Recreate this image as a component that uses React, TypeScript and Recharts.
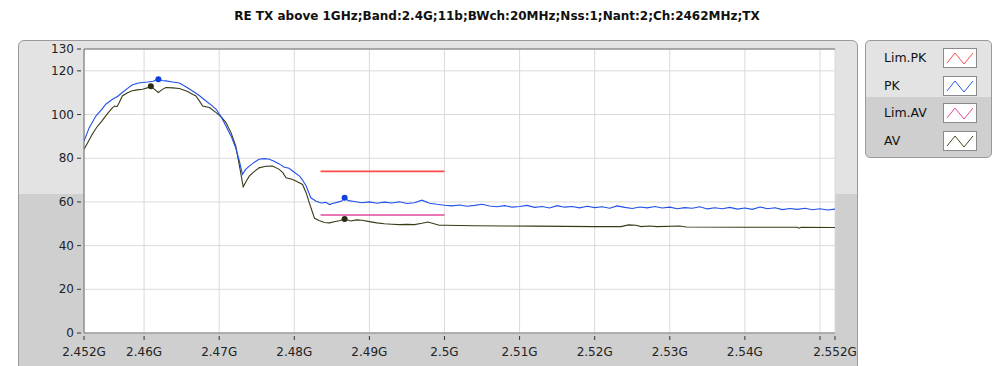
import { ComposedChart, Line, XAxis, YAxis, CartesianGrid, ReferenceDot, ReferenceLine } from "recharts";

const title = "RE TX above 1GHz;Band:2.4G;11b;BWch:20MHz;Nss:1;Nant:2;Ch:2462MHz;TX";

const xTicks = [2.452, 2.46, 2.47, 2.48, 2.49, 2.5, 2.51, 2.52, 2.53, 2.54, 2.55, 2.552];
const yTicks = [0, 20, 40, 60, 80, 100, 120, 130];

// PK trace (GHz, dBuV/m)
const pkFreq = [
  2.452, 2.4527, 2.4536, 2.4544, 2.4549, 2.4558, 2.4565, 2.4571, 2.4578, 2.4584,
  2.4591, 2.4598, 2.4605, 2.4612, 2.4619, 2.4624, 2.4629, 2.4638, 2.4647, 2.4655,
  2.4664, 2.4673, 2.4682, 2.469, 2.4696, 2.4703, 2.4709, 2.4716, 2.4722, 2.4727,
  2.4731, 2.4735, 2.474, 2.4747, 2.4753, 2.476, 2.4767, 2.4773, 2.478, 2.4786,
  2.4793, 2.48, 2.4807, 2.4811, 2.4816, 2.4822, 2.4829, 2.4836, 2.4842, 2.4847,
  2.4852, 2.4858, 2.4863, 2.4867, 2.4872, 2.488, 2.489, 2.49, 2.491, 2.492,
  2.493, 2.494, 2.495, 2.496, 2.497, 2.498, 2.499, 2.5, 2.501, 2.502,
  2.503, 2.504, 2.505, 2.506, 2.507, 2.508, 2.509, 2.51, 2.511, 2.512,
  2.513, 2.514, 2.515, 2.516, 2.517, 2.518, 2.519, 2.52, 2.521, 2.522,
  2.523, 2.524, 2.525, 2.526, 2.527, 2.528, 2.529, 2.53, 2.531, 2.532,
  2.533, 2.534, 2.535, 2.536, 2.537, 2.538, 2.539, 2.54, 2.541, 2.542,
  2.543, 2.544, 2.545, 2.546, 2.547, 2.548, 2.549, 2.55, 2.551, 2.552,
];
const pkLevel = [
  87.9, 94.0, 99.4, 102.5, 104.7, 107.0, 108.4, 110.1, 112.0, 113.5,
  114.3, 114.7, 114.9, 115.2, 116.2, 115.6, 115.4, 114.9, 114.4, 112.8,
  110.9, 108.8, 106.3, 104.2, 102.4, 98.7, 94.8, 90.0, 84.8, 78.5,
  72.6, 74.8, 76.4, 78.2, 79.5, 79.8, 79.5, 78.6, 77.4, 76.0,
  75.4, 73.6, 71.8, 70.0, 67.2, 61.9, 60.3, 59.5, 59.8, 58.8,
  59.4, 59.9, 60.4, 61.9, 60.6, 60.2, 59.6, 60.0, 59.4, 59.9,
  59.5, 60.1, 59.3, 59.6, 60.8, 59.4, 58.9, 58.5, 58.2, 58.6,
  58.0, 58.4, 58.9, 58.1, 57.8, 58.3, 57.6, 57.9, 58.4, 57.5,
  57.9, 57.2, 58.3, 57.6, 57.9, 57.3, 58.0, 57.4, 57.8, 57.1,
  58.2, 57.5, 57.0, 57.7, 57.3, 57.9, 57.2, 57.6, 56.9, 57.4,
  57.1, 57.8, 56.8, 57.3, 56.9, 57.5, 56.7, 57.2, 56.6, 57.7,
  56.9, 57.3, 56.5, 57.0, 56.6, 57.1, 56.4, 56.9, 56.3, 56.7,
];

// AV trace
const avFreq = [
  2.452, 2.4526, 2.4531, 2.4537, 2.4544, 2.4551, 2.4558, 2.4561, 2.4564, 2.4567,
  2.4571, 2.4578, 2.4584, 2.4591, 2.4598, 2.4604, 2.4609, 2.4614, 2.4619, 2.4624,
  2.4629, 2.4638, 2.4647, 2.4658, 2.4665, 2.4669, 2.4674, 2.4678, 2.4687, 2.4696,
  2.4703, 2.4709, 2.4716, 2.4722, 2.4727, 2.4732, 2.4736, 2.474, 2.4747, 2.4753,
  2.4762, 2.4771, 2.478, 2.4785, 2.4789, 2.4798, 2.4804, 2.4811, 2.4816, 2.482,
  2.4824, 2.4827, 2.4833, 2.484, 2.4847, 2.4853, 2.486, 2.4867, 2.4875, 2.4883,
  2.489, 2.49, 2.491, 2.492, 2.493, 2.494, 2.495, 2.496, 2.497, 2.4978,
  2.4985, 2.4993, 2.5, 2.504, 2.508, 2.512, 2.516, 2.52, 2.5235, 2.5245,
  2.5255, 2.5262, 2.5273, 2.5283, 2.5313, 2.5322, 2.54, 2.547, 2.5472, 2.5475,
  2.552,
];
const avLevel = [
  84.1, 87.8, 91.0, 94.2, 97.1, 100.3, 103.2, 103.9, 103.6, 105.5,
  108.5, 110.0, 110.9, 111.3, 111.6, 112.2, 112.9, 111.5, 110.1, 111.4,
  112.4, 112.2, 111.9, 110.5, 109.2, 108.5, 106.0, 103.9, 103.2, 100.9,
  98.8, 96.3, 91.5, 85.6, 76.5, 66.9, 69.5, 71.8, 74.0, 75.6,
  76.3, 76.4, 74.9, 73.3, 71.1, 70.3, 69.2, 68.0, 64.0, 59.6,
  55.5, 52.5, 51.5, 50.6, 50.4, 50.9, 51.4, 52.2, 51.3, 51.8,
  51.6, 51.0, 50.4, 50.0, 49.8, 49.6, 49.7, 49.6, 50.2, 50.8,
  50.1, 49.3, 49.3, 49.1, 49.0, 48.9, 48.8, 48.7, 48.7, 49.5,
  49.3, 48.7, 49.0, 48.7, 49.0, 48.5, 48.4, 48.4, 48.0, 48.4,
  48.3,
];

// limit lines
const limFreq = [2.4835, 2.5];
const limPk = [74, 74];
const limAv = [54, 54];

// markers
const pkMarkFreq = [2.4619, 2.4867];
const pkMarkLevel = [116.2, 61.9];
const avMarkFreq = [2.4609, 2.4867];
const avMarkLevel = [112.9, 52.2];

const pkData = pkFreq.map((f, i) => ({ f, v: pkLevel[i] }));
const avData = avFreq.map((f, i) => ({ f, v: avLevel[i] }));
const limPkData = limFreq.map((f, i) => ({ f, v: limPk[i] }));
const limAvData = limFreq.map((f, i) => ({ f, v: limAv[i] }));

const legendItems = [
  { name: "Lim.PK", color: "#ff4a4a" },
  { name: "PK", color: "#2a5ae8" },
  { name: "Lim.AV", color: "#e2489e" },
  { name: "AV", color: "#4a4a22" },
];

const FONT = "'DejaVu Sans', sans-serif";

const fmtX = (v: number) => (Math.abs(v - 2.55) < 1e-9 ? "" : `${+v.toFixed(3)}G`);

function XTick(props: any) {
  const { x, y, payload } = props;
  return (
    <g>
      <line x1={x} x2={x} y1={y + 3} y2={y + 7} stroke="#333" />
      <text x={x} y={y + 23} textAnchor="middle" fontSize={12} fontFamily={FONT} fill="#222">
        {fmtX(payload.value)}
      </text>
    </g>
  );
}

function YTick(props: any) {
  const { x, y, payload } = props;
  return (
    <g>
      <line x1={x - 7} x2={x - 3} y1={y} y2={y} stroke="#333" />
      <text x={x - 10} y={y + 4} textAnchor="end" fontSize={12} fontFamily={FONT} fill="#222">
        {payload.value}
      </text>
    </g>
  );
}

export default function App() {
  return (
    <div style={{ position: "absolute", left: 0, top: 0, width: 1002, height: 366, background: "#fff", overflow: "hidden" }}>
      <div
        style={{
          position: "absolute", left: 0, top: 9, width: 994, textAlign: "center",
          fontFamily: FONT, fontWeight: "bold", fontSize: 12, color: "#111",
        }}
      >
        {title}
      </div>
      {/* graph panel */}
      <div
        style={{
          position: "absolute", left: 18, top: 40, width: 838, height: 340, borderRadius: 6,
          border: "1px solid #9a9a9a", overflow: "hidden",
          background: "linear-gradient(#e3e3e3 0px, #e3e3e3 153px, #cfcfcf 153px)",
        }}
      />
      {/* legend panel */}
      <div
        style={{
          position: "absolute", left: 865, top: 40, width: 125, height: 116, borderRadius: 5,
          border: "1px solid #9a9a9a",
          background: "linear-gradient(#e3e3e3 0px, #e3e3e3 56px, #cfcfcf 56px)",
        }}
      >
        {legendItems.map((it, i) => (
          <div key={it.name} style={{ position: "absolute", left: 18, top: 7 + i * 27.5, height: 20, width: 100 }}>
            <span style={{ position: "absolute", left: 0, top: 2, fontFamily: FONT, fontSize: 12.5, color: "#111" }}>{it.name}</span>
            <svg style={{ position: "absolute", left: 59, top: 0 }} width={34} height={20}>
              <rect x={0.5} y={0.5} width={33} height={19} fill="#fff" stroke="#8a8a8a" />
              <polyline points="4,15 12,5 21,16 30,5" fill="none" stroke={it.color} strokeWidth={1} />
            </svg>
          </div>
        ))}
      </div>
      <div style={{ position: "absolute", left: 0, top: 0 }}>
        <ComposedChart width={1002} height={366} margin={{ top: 49, right: 167, bottom: 0, left: 0 }}>
          <CartesianGrid stroke="#dadada" fill="#ffffff" />
          <XAxis
            type="number"
            dataKey="f"
            domain={[2.452, 2.552]}
            ticks={xTicks}
            allowDataOverflow
            height={33}
            tickSize={0}
            tickMargin={0}
            tickLine={false}
            tick={<XTick />}
            axisLine={{ stroke: "#7a7a7a" }}
            interval={0}
          />
          <YAxis
            type="number"
            dataKey="v"
            domain={[0, 130]}
            ticks={yTicks}
            allowDataOverflow
            width={84}
            tickSize={0}
            tickMargin={0}
            tickLine={false}
            tick={<YTick />}
            axisLine={{ stroke: "#6a6a6a" }}
            interval={0}
          />
          <ReferenceLine y={130} stroke="#6a6a6a" />
          <Line data={limPkData} dataKey="v" stroke="#ff4a4a" strokeWidth={1.6} dot={false} isAnimationActive={false} />
          <Line data={limAvData} dataKey="v" stroke="#e2489e" strokeWidth={1.6} dot={false} isAnimationActive={false} />
          <Line data={avData} dataKey="v" stroke="#3a3a18" strokeWidth={1.1} dot={false} isAnimationActive={false} />
          <Line data={pkData} dataKey="v" stroke="#2050e8" strokeWidth={1.1} dot={false} isAnimationActive={false} />
          {pkMarkFreq.map((f, i) => (
            <ReferenceDot key={"p" + i} x={f} y={pkMarkLevel[i]} r={3} fill="#1040e0" stroke="none" />
          ))}
          {avMarkFreq.map((f, i) => (
            <ReferenceDot key={"a" + i} x={f} y={avMarkLevel[i]} r={3} fill="#2a2a10" stroke="none" />
          ))}
        </ComposedChart>
      </div>
    </div>
  );
}
